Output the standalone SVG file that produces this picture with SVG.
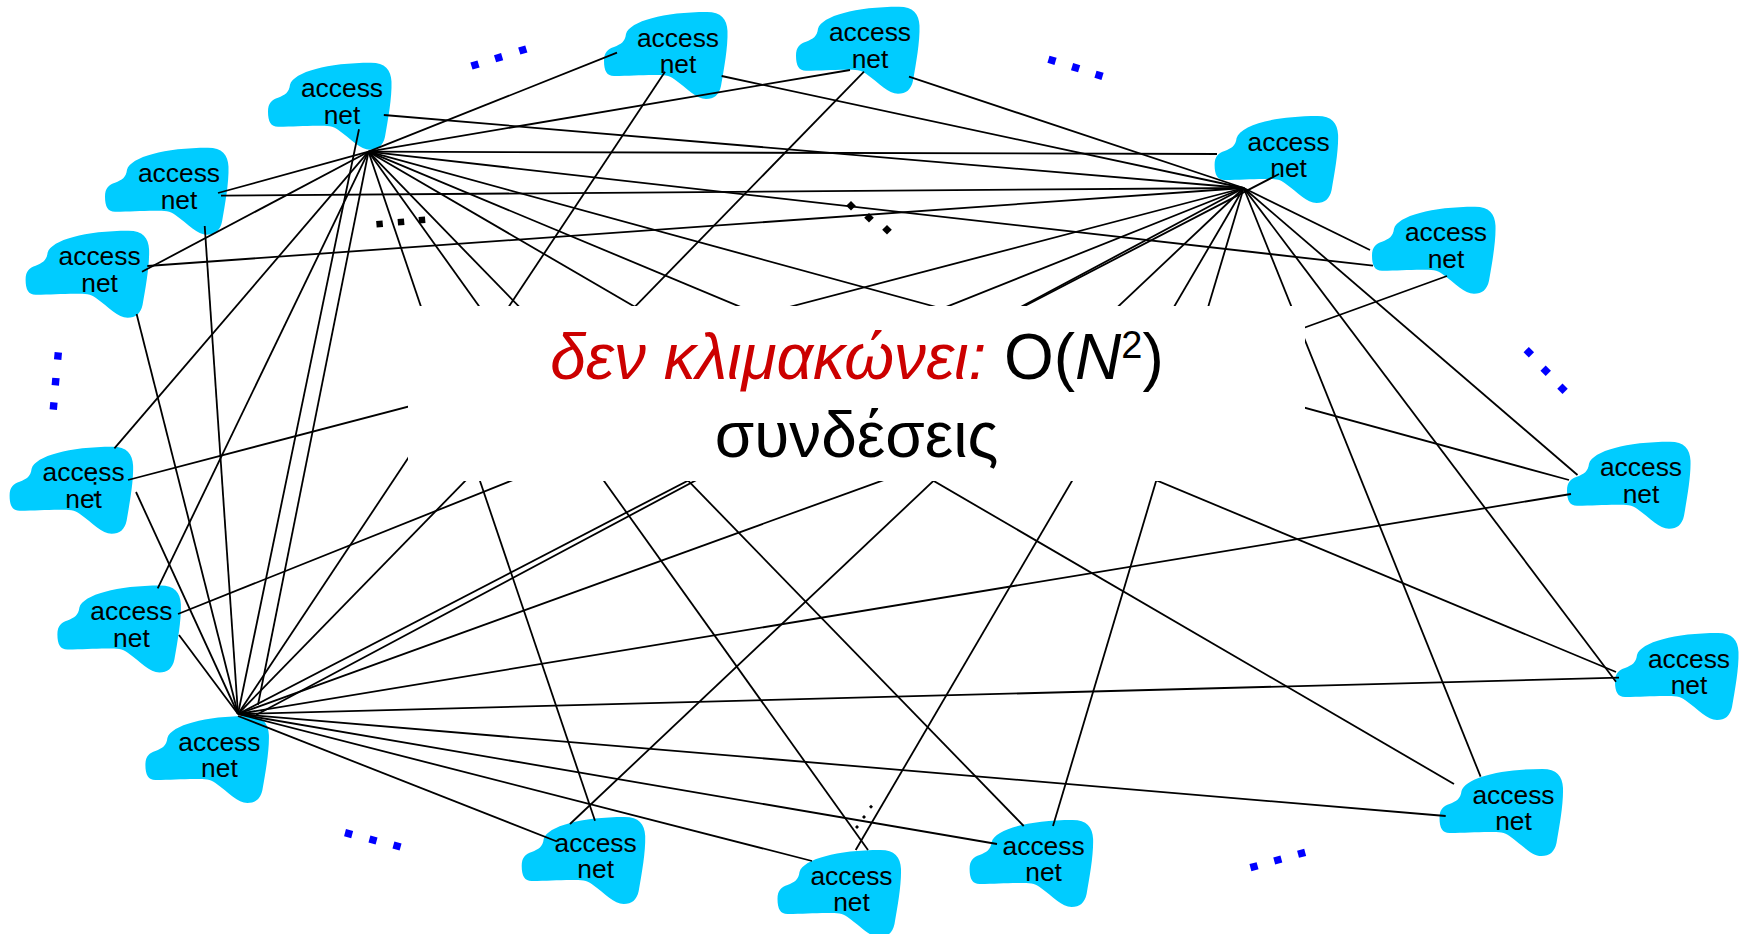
<svg xmlns="http://www.w3.org/2000/svg" width="1745" height="934" viewBox="0 0 1745 934">
<style>
.cl{fill:#00ccff}
.lb{font-family:"Liberation Sans",Arial,sans-serif;font-size:26.4px;fill:#000;text-anchor:middle}
.ln line{stroke:#000;stroke-width:1.8;fill:none}
.bd{fill:#0000ff}
.kd{fill:#000}
.big{font-family:"Liberation Sans",Arial,sans-serif;font-size:64px;text-anchor:middle;fill:#000}
.red{fill:#cc0000;font-style:italic}
</style>
<defs>
<path id="cloud" d="M0 49C0 40 4 37 10 35C17 32 21 30 22 22C26 9 60 0 103 0C117 0 123 7 123.5 19C124 35 120 57 117 74C115 83 110 87 102 87C92 87 84 77 70 67C65 63 60 63 50 63C35 63 25 64 10 64C3 64 0 59 0 49Z"/>
</defs>
<rect width="1745" height="934" fill="#fff"/>
<g id="node-1" transform="translate(268,62.7)"><use href="#cloud" class="cl"/><text class="lb" x="74" y="34.5">access</text><text class="lb" x="74" y="61.3">net</text></g>
<g id="node-2" transform="translate(105,147.7)"><use href="#cloud" class="cl"/><text class="lb" x="74" y="34.5">access</text><text class="lb" x="74" y="61.3">net</text></g>
<g id="node-3" transform="translate(25.6,230.7)"><use href="#cloud" class="cl"/><text class="lb" x="74" y="34.5">access</text><text class="lb" x="74" y="61.3">net</text></g>
<g id="node-4" transform="translate(604,12)"><use href="#cloud" class="cl"/><text class="lb" x="74" y="34.5">access</text><text class="lb" x="74" y="61.3">net</text></g>
<g id="node-5" transform="translate(796,6.7)"><use href="#cloud" class="cl"/><text class="lb" x="74" y="34.5">access</text><text class="lb" x="74" y="61.3">net</text></g>
<g id="node-6" transform="translate(1214.6,116)"><use href="#cloud" class="cl"/><text class="lb" x="74" y="34.5">access</text><text class="lb" x="74" y="61.3">net</text></g>
<g id="node-7" transform="translate(1372,206.7)"><use href="#cloud" class="cl"/><text class="lb" x="74" y="34.5">access</text><text class="lb" x="74" y="61.3">net</text></g>
<g id="node-8" transform="translate(1567,441.7)"><use href="#cloud" class="cl"/><text class="lb" x="74" y="34.5">access</text><text class="lb" x="74" y="61.3">net</text></g>
<g id="node-9" transform="translate(1615,633)"><use href="#cloud" class="cl"/><text class="lb" x="74" y="34.5">access</text><text class="lb" x="74" y="61.3">net</text></g>
<g id="node-10" transform="translate(1439.5,769)"><use href="#cloud" class="cl"/><text class="lb" x="74" y="34.5">access</text><text class="lb" x="74" y="61.3">net</text></g>
<g id="node-11" transform="translate(969.6,820)"><use href="#cloud" class="cl"/><text class="lb" x="74" y="34.5">access</text><text class="lb" x="74" y="61.3">net</text></g>
<g id="node-12" transform="translate(777.5,850)"><use href="#cloud" class="cl"/><text class="lb" x="74" y="34.5">access</text><text class="lb" x="74" y="61.3">net</text></g>
<g id="node-13" transform="translate(521.7,817)"><use href="#cloud" class="cl"/><text class="lb" x="74" y="34.5">access</text><text class="lb" x="74" y="61.3">net</text></g>
<g id="node-14" transform="translate(145.4,716)"><use href="#cloud" class="cl"/><text class="lb" x="74" y="34.5">access</text><text class="lb" x="74" y="61.3">net</text></g>
<g id="node-15" transform="translate(57.4,585.6)"><use href="#cloud" class="cl"/><text class="lb" x="74" y="34.5">access</text><text class="lb" x="74" y="61.3">net</text></g>
<g id="node-16" transform="translate(9.6,446.7)"><use href="#cloud" class="cl"/><text class="lb" x="74" y="34.5">access</text><text class="lb" x="74" y="61.3">net</text></g>
<g id="connectors" class="ln">
<line x1="368.5" y1="151.7" x2="218" y2="193"/>
<line x1="368.5" y1="151.7" x2="142" y2="271.7"/>
<line x1="368.5" y1="151.7" x2="617" y2="52.7"/>
<line x1="368.5" y1="151.7" x2="850" y2="70"/>
<line x1="368.5" y1="151.7" x2="1217" y2="154"/>
<line x1="368.5" y1="151.7" x2="1373" y2="265.7"/>
<line x1="368.5" y1="151.7" x2="1569" y2="480"/>
<line x1="368.5" y1="151.7" x2="1616" y2="672"/>
<line x1="368.5" y1="151.7" x2="1454" y2="784"/>
<line x1="368.5" y1="151.7" x2="595" y2="820.7"/>
<line x1="368.5" y1="151.7" x2="868" y2="850"/>
<line x1="368.5" y1="151.7" x2="1023.7" y2="826"/>
<line x1="368.5" y1="151.7" x2="114.4" y2="448.4"/>
<line x1="368.5" y1="151.7" x2="157.7" y2="588.4"/>
<line x1="368.5" y1="151.7" x2="258" y2="704.8"/>
<line x1="359" y1="129.3" x2="238" y2="714"/>
<line x1="383.8" y1="115" x2="1243.7" y2="188"/>
<line x1="221" y1="195.7" x2="1243.7" y2="188"/>
<line x1="147.3" y1="266" x2="1243.7" y2="188"/>
<line x1="721.6" y1="76" x2="1243.7" y2="188"/>
<line x1="909" y1="76.7" x2="1243.7" y2="188"/>
<line x1="1370" y1="250" x2="1243.7" y2="188"/>
<line x1="1577.5" y1="475" x2="1243.7" y2="188"/>
<line x1="1616" y1="681.7" x2="1243.7" y2="188"/>
<line x1="1480.6" y1="776.7" x2="1243.7" y2="188"/>
<line x1="1053" y1="826" x2="1243.7" y2="188"/>
<line x1="855.7" y1="850" x2="1243.7" y2="188"/>
<line x1="570" y1="824" x2="1243.7" y2="188"/>
<line x1="178" y1="614" x2="1243.7" y2="188"/>
<line x1="128" y1="480" x2="1243.7" y2="188"/>
<line x1="1243.7" y1="188" x2="256" y2="715"/>
<line x1="1279" y1="174" x2="238" y2="714"/>
<line x1="136" y1="492" x2="238" y2="714"/>
<line x1="179" y1="635" x2="238" y2="714"/>
<line x1="136.6" y1="314" x2="238" y2="714"/>
<line x1="204.7" y1="226" x2="238" y2="714"/>
<line x1="665" y1="71.7" x2="238" y2="714"/>
<line x1="864" y1="71.7" x2="238" y2="714"/>
<line x1="1447" y1="276" x2="238" y2="714"/>
<line x1="1571" y1="494" x2="238" y2="714"/>
<line x1="1619" y1="677.6" x2="238" y2="714"/>
<line x1="1445.7" y1="816" x2="238" y2="714"/>
<line x1="997" y1="844" x2="238" y2="714"/>
<line x1="812" y1="861" x2="238" y2="714"/>
<line x1="557" y1="841.5" x2="238" y2="716"/>
</g>
<g id="center-label">
<rect x="408" y="306" width="897" height="175" fill="#fff"/>
<text class="big" x="857" y="379"><tspan class="red">δεν κλιμακώνει:</tspan> O(<tspan font-style="italic">N</tspan><tspan font-size="38" dy="-21">2</tspan><tspan dy="21">)</tspan></text>
<text class="big" x="856.5" y="457">συνδέσεις</text>
</g>
<g id="dots">
<rect class="bd" x="-3.7" y="-3.7" width="7.4" height="7.4" transform="translate(475,65) rotate(-17)"/>
<rect class="bd" x="-3.7" y="-3.7" width="7.4" height="7.4" transform="translate(498.6,57.7) rotate(-17)"/>
<rect class="bd" x="-3.7" y="-3.7" width="7.4" height="7.4" transform="translate(522.8,50) rotate(-17)"/>
<rect class="bd" x="-3.7" y="-3.7" width="7.4" height="7.4" transform="translate(1052,60.3) rotate(17)"/>
<rect class="bd" x="-3.7" y="-3.7" width="7.4" height="7.4" transform="translate(1075.6,67.7) rotate(17)"/>
<rect class="bd" x="-3.7" y="-3.7" width="7.4" height="7.4" transform="translate(1099,75.3) rotate(17)"/>
<rect class="bd" x="-3.7" y="-3.7" width="7.4" height="7.4" transform="translate(1528.8,352.3) rotate(45)"/>
<rect class="bd" x="-3.7" y="-3.7" width="7.4" height="7.4" transform="translate(1545.7,370.7) rotate(45)"/>
<rect class="bd" x="-3.7" y="-3.7" width="7.4" height="7.4" transform="translate(1562.5,388.7) rotate(45)"/>
<rect class="bd" x="-3.7" y="-3.7" width="7.4" height="7.4" transform="translate(58,356) rotate(5)"/>
<rect class="bd" x="-3.7" y="-3.7" width="7.4" height="7.4" transform="translate(55.6,381.7) rotate(5)"/>
<rect class="bd" x="-3.7" y="-3.7" width="7.4" height="7.4" transform="translate(53.6,406) rotate(5)"/>
<rect class="bd" x="-3.7" y="-3.7" width="7.4" height="7.4" transform="translate(348.6,833.6) rotate(15)"/>
<rect class="bd" x="-3.7" y="-3.7" width="7.4" height="7.4" transform="translate(373,840) rotate(15)"/>
<rect class="bd" x="-3.7" y="-3.7" width="7.4" height="7.4" transform="translate(397,846) rotate(15)"/>
<rect class="bd" x="-3.7" y="-3.7" width="7.4" height="7.4" transform="translate(1254,866.7) rotate(-15)"/>
<rect class="bd" x="-3.7" y="-3.7" width="7.4" height="7.4" transform="translate(1277.8,860) rotate(-15)"/>
<rect class="bd" x="-3.7" y="-3.7" width="7.4" height="7.4" transform="translate(1301.6,853.3) rotate(-15)"/>
<rect class="kd" x="-3.2" y="-3.2" width="6.4" height="6.4" transform="translate(379.6,224) rotate(-5)"/>
<rect class="kd" x="-3.2" y="-3.2" width="6.4" height="6.4" transform="translate(401,222) rotate(-5)"/>
<rect class="kd" x="-3.2" y="-3.2" width="6.4" height="6.4" transform="translate(422,220) rotate(-5)"/>
<rect class="kd" x="-3.4" y="-3.4" width="6.8" height="6.8" transform="translate(851,205.7) rotate(45)"/>
<rect class="kd" x="-3.4" y="-3.4" width="6.8" height="6.8" transform="translate(869,217.7) rotate(45)"/>
<rect class="kd" x="-3.4" y="-3.4" width="6.8" height="6.8" transform="translate(887,229.7) rotate(45)"/>
<rect class="kd" x="-1.4" y="-1.4" width="2.8" height="2.8" transform="translate(857,827) rotate(45)"/>
<rect class="kd" x="-1.4" y="-1.4" width="2.8" height="2.8" transform="translate(864,817) rotate(45)"/>
<rect class="kd" x="-1.4" y="-1.4" width="2.8" height="2.8" transform="translate(871,806.7) rotate(45)"/>
<rect class="kd" x="-1.3" y="-1.3" width="2.6" height="2.6" transform="translate(95,472)"/>
<rect class="kd" x="-1.3" y="-1.3" width="2.6" height="2.6" transform="translate(95,483.4)"/>
<rect class="kd" x="-1.3" y="-1.3" width="2.6" height="2.6" transform="translate(95,495)"/>
</g>
</svg>
